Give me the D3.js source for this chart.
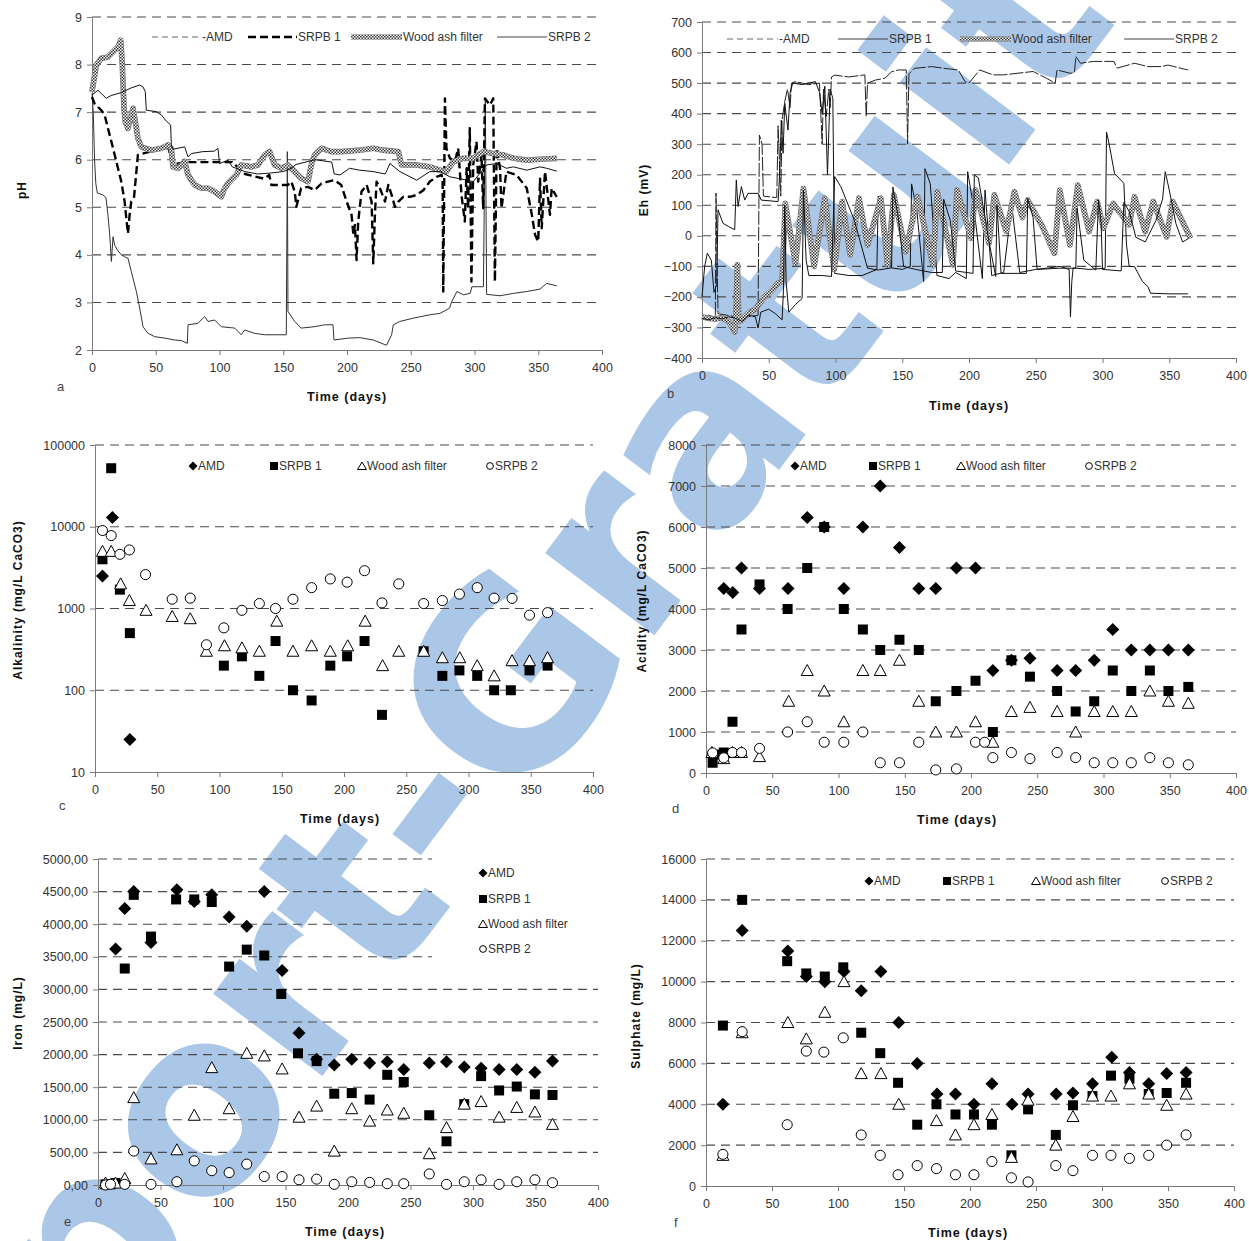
<!DOCTYPE html>
<html>
<head>
<meta charset="utf-8">
<script src="https://cdn.jsdelivr.net/npm/d3@7"></script>
<style>
  body { margin: 0; background: #fff; }
  svg { font-family: "Liberation Sans", Arial, sans-serif; }
</style>
</head>
<body>
<svg id="fig" width="1249" height="1241"></svg>
<script>
// ---- data: [day, value] ----
const seriesNames = ["AMD", "SRPB 1", "Wood ash filter", "SRPB 2"];
const dayTicks = [0, 50, 100, 150, 200, 250, 300, 350, 400];

// a - pH
const phAMD = [[0,7.39],[1,7.0],[2,6.0],[3,5.5],[4.2,5.3],[8.6,5.26],[11,5.2],[12.5,4.84],[13.9,4.42],[15.2,3.86],[16.5,4.38],[17.8,4.2],[20,4.1],[23,4.0],[25.6,3.96],[28.2,3.93],[30.8,3.65],[34.8,3.23],[37.4,2.88],[40,2.49],[43.9,2.35],[49.2,2.28],[57,2.25],[64.8,2.21],[70,2.2],[74.8,2.14],[75.3,2.53],[83,2.56],[88.4,2.7],[91,2.6],[96.2,2.63],[101.4,2.49],[112,2.46],[117,2.32],[119.7,2.42],[127.6,2.35],[135.4,2.32],[143.3,2.32],[152.4,2.32],[153.2,6.17],[153.7,2.81],[159,2.6],[164,2.46],[174.6,2.49],[182.5,2.53],[189,2.53],[189.8,2.21],[201,2.25],[210,2.26],[220.6,2.21],[231,2.1],[235,2.32],[236.3,2.53],[241.5,2.6],[252,2.67],[265,2.74],[273,2.77],[280.4,2.88],[282.2,3.02],[286.2,3.23],[291.4,3.16],[296.6,3.19],[298,3.33],[307,3.33],[308.5,7.3],[309.5,3.17],[320,3.14],[330.5,3.19],[341,3.23],[351.4,3.28],[356.6,3.4],[364.5,3.35]];
const phSRPB1 = [[0,7.32],[2,7.18],[7.3,7.04],[9.9,6.94],[12.5,6.66],[15.2,6.38],[17.8,6.1],[20.4,5.82],[23,5.54],[25.6,5.12],[26.9,4.77],[28.2,4.45],[29.5,4.84],[30.8,5.12],[32.9,5.19],[36,6.1],[50,6.2],[60,6.25],[63,5.9],[75,5.95],[100,5.95],[110,5.95],[120,5.7],[135,5.6],[139,5.68],[140.7,5.47],[153.7,5.47],[156.3,5.54],[159,5.33],[160.3,5.01],[164,5.4],[169.4,5.43],[174.6,5.36],[180,5.5],[185,5.54],[190,5.57],[195.5,5.47],[199.7,5.12],[203.6,4.84],[205,4.42],[206.2,4.63],[207.5,3.89],[208.8,4.7],[211.4,5.33],[215.4,5.47],[219.3,5.12],[220.6,3.82],[221.9,4.84],[223.2,5.54],[225.8,5.4],[229.8,5.12],[232.4,5.47],[235,5.26],[237.6,5.01],[240.3,5.12],[244.2,5.22],[249.4,5.22],[254.6,5.26],[259.9,5.36],[265,5.54],[270.3,5.64],[274.2,5.68],[275,5.6],[275.5,3.23],[276.8,7.29],[278,6.24],[280.7,6.03],[284.6,5.96],[287.2,6.24],[289.8,5.26],[292.4,4.7],[293.8,5.82],[295,4.98],[296.3,6.66],[297.6,3.44],[299,5.89],[301.6,6.38],[302.9,5.54],[305.5,6.1],[306.8,4.98],[308.2,7.29],[312.1,7.15],[314.7,7.29],[316,3.44],[317.4,6.24],[320,5.82],[321.2,4.98],[325,5.75],[333,5.68],[341,5.4],[345,4.84],[347.5,4.42],[350,4.28],[351.4,5.6],[352.7,4.56],[355.3,5.75],[359.2,4.84],[360.5,5.4],[364.5,5.22]];
const phWood = [[0,7.43],[3.4,7.99],[7.3,8.13],[12.5,8.16],[16.5,8.27],[20.4,8.37],[22.5,8.51],[23.8,7.99],[25.1,7.08],[26.1,6.8],[28.2,6.66],[32.2,7.08],[34.8,6.66],[36,6.45],[38.7,6.27],[46.5,6.2],[54.4,6.24],[59.6,6.31],[62.2,6.24],[63.5,5.85],[67.5,5.82],[72.7,5.96],[75.3,5.68],[80.5,5.47],[85.8,5.4],[91,5.4],[96.2,5.33],[101.4,5.22],[104,5.4],[108,5.54],[113.2,5.68],[117,5.89],[125,5.85],[130.2,5.89],[135.4,6.1],[139.3,6.17],[143.3,5.89],[148.5,5.82],[153.7,5.89],[159,5.75],[164,5.61],[169.4,5.54],[172,5.89],[174.6,6.1],[180,6.24],[187.7,6.17],[195.5,6.17],[210,6.2],[220.6,6.24],[228.4,6.2],[240.3,6.17],[242.8,5.89],[254.6,5.89],[265,5.85],[273,5.78],[278,5.75],[283.4,5.96],[291.2,6.03],[299,6.03],[307,6.17],[314.7,6.13],[322.6,6.1],[330.5,6.03],[341,5.99],[351.4,6.01],[364.5,6.03]];
const phSRPB2 = [[0,7.36],[4.7,7.46],[11.2,7.29],[15,7.35],[23,7.41],[30.8,7.51],[37.4,7.57],[40,7.53],[41.8,7.43],[42.6,7.04],[50.5,7.01],[54.4,6.94],[58.3,6.81],[61.7,6.73],[62.2,6.31],[63.5,6.22],[72.7,6.27],[75.3,6.06],[78,6.13],[87,6.17],[96,6.18],[98.8,6.24],[100,5.92],[106.7,5.99],[110,5.85],[120,5.75],[130,5.7],[140,5.72],[150,5.75],[155,5.8],[160,5.9],[175,6.0],[188,5.95],[190,5.7],[194.5,5.68],[202,5.82],[210,5.78],[220.6,5.75],[230,5.7],[233.7,5.92],[241.5,5.75],[254.6,5.57],[265,5.75],[272.9,5.75],[280.8,5.64],[288.6,5.6],[299,5.54],[309.5,5.89],[317.4,5.92],[325,5.82],[330.5,5.85],[341,5.78],[351.4,5.85],[356.6,5.82],[364.5,5.76]];
const phTicks = [2, 3, 4, 5, 6, 7, 8, 9];

// b - Eh (mV)
const ehAMD = [[0,-265],[5,-260],[10,-268],[10.5,140],[11,-20],[12,-255],[25,-265],[26,-90],[27,-270],[42,-260],[43,330],[45,300],[46,130],[56,125],[57,360],[59,130],[60,380],[62,440],[64,480],[66,420],[67,500],[70,505],[80,495],[88,500],[90,300],[91,480],[93,390],[95,480],[96,420],[97,520],[99.4,526],[110,520],[122,527],[123,390],[124,500],[130,510],[137,516],[142,537],[147,543],[153,543],[154,300],[155,530],[159,548],[172,554],[182,548],[192,543],[197,505],[200,500],[208,543],[218,527],[226,527],[236,532],[248,538],[258,516],[264.5,500],[266,543],[276,532],[279,535],[280,587],[283.5,565],[293.5,571],[308.5,571],[311,549],[324,565],[334,554],[344,554],[349,559],[364,543]];
const ehSRPB1 = [[0,-200],[2,-100],[4,-57],[7,-80],[9,-185],[11,-160],[12,85],[15.7,41],[20,30],[24.5,20],[25.7,183],[27,96],[29.5,161],[32,117],[34.5,139],[42,139],[44.4,117],[57,112],[58.2,205],[59.4,379],[60.7,270],[62,434],[64.4,346],[66,470],[68,500],[75,495],[85,505],[88,470],[90,400],[92,490],[94,200],[96,480],[98,450],[99.4,-123],[110,-130],[120,-130],[131,-110],[132,130],[137,40],[142,-105],[150,-110],[156,-100],[157,170],[161,80],[166,-150],[167,220],[171,170],[176,-130],[185,-140],[190,-120],[198,-140],[199,210],[204,80],[210,-140],[212,150],[217,-130],[226,-120],[232,100],[238,-120],[250,-110],[260,-105],[268,-100],[275,-110],[276,-265],[277,-150],[278,-105],[290,-110],[302,-106],[303,340],[305,300],[309,204],[316,172],[318,-30],[320,-100],[324,-101],[330,-150],[334,-166],[336,-188],[350,-190],[364,-190]];
const ehWood = [[0,-265],[5,-270],[10,-272],[15,-268],[20,-280],[24.5,-314],[25.5,-260],[26.5,-95],[27.5,-280],[30,-275],[34.5,-254],[40,-240],[47,-199],[52,-180],[57,-155],[60,-150],[62.4,106],[70,-90],[76,155],[84,-100],[92,123],[99,-110],[105,112],[111,-62],[117.6,123],[124,-30],[134,123],[139,-95],[143.7,134],[152.6,-52],[161.5,128],[173,-95],[176.3,144],[188,-95],[191,150],[201.5,-8],[205,150],[215,-24],[219,134],[228,14],[234,144],[240,60],[244,117],[255,30],[264,-57],[268,150],[275.6,-30],[281.5,166],[290,14],[296,112],[300.7,25],[308,106],[320,36],[324,128],[332,14],[338,112],[348,-3],[352.6,112],[366,-8]];
const ehSRPB2 = [[0,-270],[5,-275],[10,-268],[15,-272],[20,-265],[25,-270],[30,-280],[35,-260],[40,-265],[42,-302],[44,-250],[50,-240],[55,-255],[60,-275],[61,-180],[62,100],[63,-150],[65,-250],[70,-225],[75,-205],[76,150],[78,-80],[80,-130],[90,-130],[97,-133],[99.4,194],[104,161],[114,52],[124,-106],[132,-112],[142,-105],[143,160],[147,60],[151,-100],[160,-110],[172,-120],[180,-120],[181,120],[186,50],[190,-115],[203,-123],[204,199],[207,190],[215,-20],[220,-133],[221,100],[224,-123],[243,-123],[244,123],[248,60],[251,-110],[268,-106],[280,-106],[281,90],[286,-80],[295,-112],[297,117],[299,40],[300,-110],[314,-115],[316,110],[320,80],[325,-5],[332,-20],[340,50],[345,120],[347,210],[350,150],[355,40],[360,-20],[364,-10]];
const ehTicks = [-400, -300, -200, -100, 0, 100, 200, 300, 400, 500, 600, 700];

// c - alkalinity (mg/L CaCO3)
const alkAMD = [[6,2500],[14,13000],[28,25]];
const alkSRPB1 = [[6,4000],[13,52000],[20,1700],[28,500],[103.5,200],[118,260],[132,150],[145,400],[159,100],[174,75],[189,200],[202.5,260],[216.5,400],[230.5,50],[264,300],[279,150],[292.7,175],[307,150],[320.6,100],[334,100],[349,175],[363.5,200]];
const alkWood = [[6,5000],[13,5000],[20.6,2000],[27.6,1250],[41,950],[62,800],[76.5,750],[89.5,300],[104,350],[118,330],[132,300],[146,700],[159,300],[174,350],[189,300],[203,350],[217,700],[231,200],[244,300],[264,300],[279,250],[293,250],[307,200],[320.6,150],[335,230],[349,230],[363.5,250]];
const alkSRPB2 = [[6,9000],[13,7800],[20,4600],[27.6,5200],[40.6,2600],[62,1300],[76.5,1340],[89.5,360],[103.5,580],[118,950],[132,1150],[145,1000],[159,1300],[174,1800],[189,2300],[202.5,2100],[216.5,2900],[230.5,1170],[244,2000],[264,1150],[279,1250],[292.7,1500],[307,1800],[320.6,1340],[335,1330],[349,830],[363.5,890]];
const alkTicks = [10, 100, 1000, 10000, 100000];

// d - acidity (mg/L CaCO3)
const acAMD = [[13.4,4500],[20.2,4400],[26.8,5000],[40.4,4500],[61.9,4500],[76.4,6230],[89.2,6000],[104,4500],[118.4,6000],[131.5,7000],[146,5500],[160.6,4500],[173.4,4500],[189,5000],[203.4,5000],[216.5,2500],[230.5,2750],[244.5,2800],[265,2500],[279,2500],[293,2750],[307,3500],[321,3000],[335,3000],[349,3000],[364,3000]];
const acSRPB1 = [[5,250],[6.5,450],[13.4,500],[20,1250],[26.8,3500],[40.4,4600],[61.6,4000],[76.4,5000],[89.2,6000],[104,4000],[118.4,3500],[131.5,3000],[146,3250],[160.6,3000],[173.4,1750],[189,2000],[203.4,2250],[216.5,1000],[230.5,2750],[244.5,2350],[265,2000],[279,1500],[293,1750],[307,2500],[321,2000],[335,2500],[349,2000],[364,2100]];
const acWood = [[4.5,500],[13.4,350],[20,500],[26.8,500],[40.4,400],[62.4,1750],[76.4,2500],[89.2,2000],[104,1250],[118.4,2500],[131.5,2500],[146,2750],[160.6,1750],[173.4,1000],[189,1000],[203.4,1250],[216.5,750],[230.5,1500],[244.5,1600],[265,1500],[279,1000],[293,1500],[307,1500],[321,1500],[335,2000],[349,1750],[364,1700]];
const acSRPB2 = [[5,490],[13.4,370],[20,500],[26.8,500],[40.4,600],[61.6,1000],[76.4,1250],[89.2,750],[104,750],[118.4,1000],[131.5,250],[146,250],[160.6,750],[173.4,75],[189,100],[203.4,750],[210.3,750],[216.5,375],[230.5,500],[244.5,350],[265,500],[279,375],[293,250],[307,250],[321,250],[335,375],[349,250],[364,200]];
const acTicks = [0, 1000, 2000, 3000, 4000, 5000, 6000, 7000, 8000];

// e - iron (mg/L)
const feAMD = [[14.1,3620],[21.4,4240],[28.6,4500],[42.4,3720],[63.1,4530],[77,4350],[91,4450],[104.9,4110],[119,3970],[133,4500],[147.3,3290],[160.8,2330],[174.9,1930],[189,1840],[203,1930],[217.3,1870],[231.4,1890],[244.6,1770],[265,1870],[278.8,1890],[293,1810],[306.5,1790],[320.9,1770],[335,1770],[349.5,1730],[363.6,1900]];
const feSRPB1 = [[6,10],[10,10],[14,30],[21.4,3320],[28.6,4450],[42.4,3810],[62.5,4380],[77,4380],[91,4340],[104.9,3350],[119,3610],[133,3520],[146.6,2930],[160,2020],[174.9,1900],[189,1400],[203,1410],[217.3,1310],[231.4,1690],[244.6,1580],[265,1070],[278.8,670],[293,1240],[306.5,1670],[320.9,1450],[335,1510],[349.5,1390],[363.6,1380]];
const feWood = [[6,30],[14,30],[21.4,100],[28.6,1340],[42.4,400],[63.1,540],[77,1070],[91,1800],[104.9,1170],[119,2020],[133,1980],[147.3,1780],[160.8,1040],[174.9,1210],[189,520],[203,1170],[217.3,980],[231.4,1150],[244.6,1100],[265,480],[278.8,880],[293,1240],[306.5,1280],[320.9,1040],[335,1190],[349.5,1120],[363.6,930]];
const feSRPB2 = [[6,0],[10,10],[21.4,10],[28.6,520],[42.4,10],[63.1,50],[77,370],[91,220],[104.9,190],[119,320],[133,130],[147.3,130],[160.8,80],[174.9,90],[189,10],[203,50],[217.3,40],[231.4,20],[244.6,20],[265,170],[278.8,10],[293,50],[306.5,80],[320.9,10],[335,50],[349.5,80],[363.6,35]];
const feTicks = [0, 500, 1000, 1500, 2000, 2500, 3000, 3500, 4000, 4500, 5000];

// f - sulphate (mg/L)
const soAMD = [[12.8,4000],[27.4,12500],[62,11500],[76,10250],[90,10000],[104.5,10500],[117.6,9550],[132.5,10500],[146,8000],[160,6000],[175,4500],[189,4500],[203,4000],[216.6,5000],[231.8,4000],[244,4500],[265.3,4500],[278,4550],[292.8,5000],[307.4,6300],[320.8,5550],[335.4,5000],[349,5500],[363.7,5550]];
const soSRPB1 = [[12.8,7850],[27.4,14000],[61.5,11000],[76,10400],[90,10250],[104,10700],[117.6,7500],[132,6500],[145.5,5050],[160,3000],[174.6,4000],[189,3500],[203,3500],[216.6,3000],[231.4,1500],[244,3750],[265,2500],[278,3950],[292.8,4400],[306.8,5400],[320.8,5250],[335.4,4500],[349,4550],[363.7,5050]];
const soWood = [[12.8,1500],[27.4,7500],[62,8000],[76,7200],[90,8500],[104.5,10000],[117.6,5500],[132.5,5500],[146,4000],[174.6,3200],[189,2500],[203,3000],[216.6,3500],[231.4,1400],[244,4200],[265,2000],[278,3400],[292.8,4400],[306.8,4400],[320.8,5000],[335.4,4500],[349,3950],[363.7,4500]];
const soSRPB2 = [[12.8,1550],[27.4,7550],[61.5,3000],[76,6600],[89.3,6550],[104,7250],[117.6,2500],[132,1500],[145.5,550],[160,1000],[174.6,850],[189,550],[203,550],[216.6,1200],[231.4,400],[244,200],[265,1000],[278,750],[292.8,1500],[306.8,1500],[320.8,1350],[335.4,1500],[349,2000],[363.7,2500]];
const soTicks = [0, 2000, 4000, 6000, 8000, 10000, 12000, 14000, 16000];

// ---- drawing ----
const svg = d3.select("#fig");
const defs = svg.append("defs");
const pat = defs.append("pattern").attr("id", "checker")
  .attr("patternUnits", "userSpaceOnUse").attr("width", 3).attr("height", 3);
pat.append("rect").attr("width", 3).attr("height", 3).attr("fill", "#fff");
pat.append("rect").attr("width", 1.5).attr("height", 1.5).attr("fill", "#333");
pat.append("rect").attr("x", 1.5).attr("y", 1.5).attr("width", 1.5).attr("height", 1.5).attr("fill", "#333");

// watermark behind the charts
svg.append("text")
  .attr("transform", "translate(581,589) rotate(-53)")
  .attr("text-anchor", "middle").attr("dominant-baseline", "central")
  .style("font-family", "'DejaVu Sans', sans-serif")
  .style("font-size", "250px").style("font-weight", "bold")
  .attr("fill", "#abc7e8")
  .text("Rapport-Gratuit.com");

const markers = {
  diamond: "M0,-6.5L6.5,0L0,6.5L-6.5,0Z",
  square: "M-5,-5H5V5H-5Z",
  triangle: "M0,-6L6,5H-6Z",
  circle: d3.symbol().type(d3.symbolCircle).size(80)()
};
const legendMarkers = {
  diamond: "M0,-4.5L4.5,0L0,4.5L-4.5,0Z",
  square: "M-4,-4H4V4H-4Z",
  triangle: "M0,-4L4.5,3.5H-4.5Z",
  circle: d3.symbol().type(d3.symbolCircle).size(36)()
};
const markerStyle = {
  diamond: { fill: "#000", stroke: "none" },
  square: { fill: "#000", stroke: "none" },
  triangle: { fill: "#fff", stroke: "#000" },
  circle: { fill: "#fff", stroke: "#000" }
};
const shapes = ["diamond", "square", "triangle", "circle"];

function panel(p) {
  const g = svg.append("g");
  const x = d3.scaleLinear().domain([0, 400]).range([p.x0, p.x1]);
  const y = (p.log ? d3.scaleLog() : d3.scaleLinear()).domain(p.domain).range([p.yb, p.yt]);

  // dashed gridlines
  g.selectAll(".grid").data(p.ticks.slice(1)).enter().append("line")
    .attr("x1", x(0)).attr("x2", d => (p.gridCut && d >= p.gridCut[0]) ? p.gridCut[1] : x(400))
    .attr("y1", d => y(d)).attr("y2", d => y(d))
    .attr("stroke", "#4a4a4a").attr("stroke-width", 1.1).attr("stroke-dasharray", "9,6");

  const xa = g.append("g").attr("transform", "translate(0," + p.yb + ")")
    .call(d3.axisBottom(x).tickValues(dayTicks).tickSize(5).tickSizeOuter(0).tickPadding(8));
  const ya = g.append("g").attr("transform", "translate(" + p.x0 + ",0)")
    .call(d3.axisLeft(y).tickValues(p.ticks).tickFormat(p.fmt || d3.format("d")).tickSize(5).tickSizeOuter(0).tickPadding(5));
  [xa, ya].forEach(a => {
    a.select(".domain").attr("stroke", "#7a7a7a");
    a.selectAll(".tick line").attr("stroke", "#7a7a7a");
    a.selectAll("text").attr("fill", "#333").style("font-size", "12.5px");
  });

  g.append("text").attr("x", p.title[0]).attr("y", p.title[1])
    .attr("text-anchor", "middle").attr("dominant-baseline", "central")
    .style("font-size", "12.5px").style("font-weight", "bold").style("letter-spacing", "1px")
    .attr("fill", "#111").text("Time (days)");
  g.append("text").attr("transform", "translate(" + p.ytitle[0] + "," + p.ytitle[1] + ") rotate(-90)")
    .attr("text-anchor", "middle").attr("dominant-baseline", "central")
    .style("font-size", "12px").style("font-weight", "bold").style("letter-spacing", "1px")
    .attr("fill", "#111").text(p.ylabel);
  g.append("text").attr("x", p.letter[0]).attr("y", p.letter[1])
    .attr("dominant-baseline", "central").style("font-size", "13px").attr("fill", "#444").text(p.name);
  return { g, x, y };
}

const lineStyles = [
  { stroke: "#333", width: 1, dash: null },
  { stroke: "#000", width: 2.4, dash: "8,4" },
  { stroke: "url(#checker)", width: 4.5, dash: null },
  { stroke: "#111", width: 1, dash: null }
];

function drawLines(pp, data, styles) {
  const line = d3.line().x(d => pp.x(d[0])).y(d => pp.y(d[1]));
  data.forEach((s, i) => {
    const st = styles[i];
    if (st.stroke === "url(#checker)") {
      pp.g.append("path").datum(s).attr("d", line).attr("fill", "none")
        .attr("stroke", "#777").attr("stroke-width", st.width + 1.2).attr("stroke-linejoin", "round");
    }
    pp.g.append("path").datum(s).attr("d", line).attr("fill", "none")
      .attr("stroke", st.stroke).attr("stroke-width", st.width)
      .attr("stroke-dasharray", st.dash).attr("stroke-linejoin", "round");
  });
}

function lineLegend(g, y, items, styles) {
  items.forEach((it, i) => {
    const st = styles[i];
    if (st.stroke === "url(#checker)") {
      g.append("line").attr("x1", it[0]).attr("x2", it[1]).attr("y1", y).attr("y2", y)
        .attr("stroke", "#777").attr("stroke-width", 5);
    }
    g.append("line").attr("x1", it[0]).attr("x2", it[1]).attr("y1", y).attr("y2", y)
      .attr("stroke", st.stroke).attr("stroke-width", st.width).attr("stroke-dasharray", st.dash);
    g.append("text").attr("x", it[1] + 1).attr("y", y).attr("dominant-baseline", "central")
      .style("font-size", "12px").attr("fill", "#333").text((i === 0 ? "-" : "") + seriesNames[i]);
  });
}

function drawPoints(pp, data) {
  data.forEach((s, i) => {
    const sh = shapes[i];
    pp.g.selectAll(".m" + i).data(s).enter().append("path")
      .attr("transform", d => "translate(" + pp.x(d[0]) + "," + pp.y(d[1]) + ")")
      .attr("d", markers[sh]).attr("fill", markerStyle[sh].fill)
      .attr("stroke", markerStyle[sh].stroke).attr("stroke-width", 1);
  });
}

function pointLegend(g, pos) {
  pos.forEach((p, i) => {
    const sh = shapes[i];
    g.append("path").attr("transform", "translate(" + p[0] + "," + p[1] + ")")
      .attr("d", legendMarkers[sh]).attr("fill", markerStyle[sh].fill)
      .attr("stroke", markerStyle[sh].stroke).attr("stroke-width", 1);
    g.append("text").attr("x", p[0] + 5).attr("y", p[1]).attr("dominant-baseline", "central")
      .style("font-size", "12px").attr("fill", "#333").text(seriesNames[i]);
  });
}

// a
const pa = panel({ x0: 92, x1: 602, yb: 350, yt: 17, domain: [2, 9], ticks: phTicks,
  title: [347, 397], ytitle: [22, 190], ylabel: "pH", letter: [57, 386], name: "a" });
drawLines(pa, [phAMD, phSRPB1, phWood, phSRPB2], lineStyles);
lineLegend(pa.g, 37, [[152, 201], [248, 297], [351, 402], [497, 547]],
  [{ stroke: "#666", width: 1, dash: "6,4" }, lineStyles[1], lineStyles[2], { stroke: "#444", width: 1, dash: null }]);

// b
const pb = panel({ x0: 702, x1: 1236, yb: 358, yt: 22, domain: [-400, 700], ticks: ehTicks,
  title: [969, 406], ytitle: [644, 190], ylabel: "Eh (mV)", letter: [667, 393], name: "b" });
const ehStyles = [
  { stroke: "#222", width: 1, dash: "14,2" },
  { stroke: "#111", width: 1, dash: null },
  { stroke: "url(#checker)", width: 4.5, dash: null },
  { stroke: "#111", width: 1, dash: null }
];
drawLines(pb, [ehAMD, ehSRPB1, ehWood, ehSRPB2], ehStyles);
lineLegend(pb.g, 39, [[727, 778], [838, 888], [960, 1011], [1124, 1174]],
  [{ stroke: "#666", width: 1, dash: "6,4" }, { stroke: "#444", width: 1, dash: null }, lineStyles[2], { stroke: "#444", width: 1, dash: null }]);

// c
const pc = panel({ x0: 95, x1: 593, yb: 772, yt: 445, domain: [10, 100000], log: true, ticks: alkTicks,
  title: [340, 819], ytitle: [18, 600], ylabel: "Alkalinity (mg/L CaCO3)", letter: [59, 805], name: "c" });
drawPoints(pc, [alkAMD, alkSRPB1, alkWood, alkSRPB2]);
pointLegend(pc.g, [[193, 466], [274, 466], [362, 466], [490, 466]]);

// d
const pd = panel({ x0: 706, x1: 1236, yb: 773, yt: 445, domain: [0, 8000], ticks: acTicks,
  title: [957, 820], ytitle: [642, 601], ylabel: "Acidity (mg/L CaCO3)", letter: [672, 808], name: "d" });
drawPoints(pd, [acAMD, acSRPB1, acWood, acSRPB2]);
pointLegend(pd.g, [[795, 466], [873, 466], [961, 466], [1089, 466]]);

// e
const pe = panel({ x0: 98, x1: 598, yb: 1185, yt: 859, domain: [0, 5000], ticks: feTicks,
  fmt: d => d3.format(".2f")(d).replace(".", ","), gridCut: [3500, 432],
  title: [345, 1232], ytitle: [18, 1013], ylabel: "Iron (mg/L)", letter: [64, 1221], name: "e" });
drawPoints(pe, [feAMD, feSRPB1, feWood, feSRPB2]);
pointLegend(pe.g, [[483, 873], [483, 899], [483, 924], [483, 949]]);

// f
const pf = panel({ x0: 706, x1: 1234, yb: 1186, yt: 859, domain: [0, 16000], ticks: soTicks,
  title: [968, 1233], ytitle: [636, 1016], ylabel: "Sulphate (mg/L)", letter: [674, 1222], name: "f" });
drawPoints(pf, [soAMD, soSRPB1, soWood, soSRPB2]);
pointLegend(pf.g, [[869, 881], [947, 881], [1036, 881], [1165, 881]]);
</script>
</body>
</html>
